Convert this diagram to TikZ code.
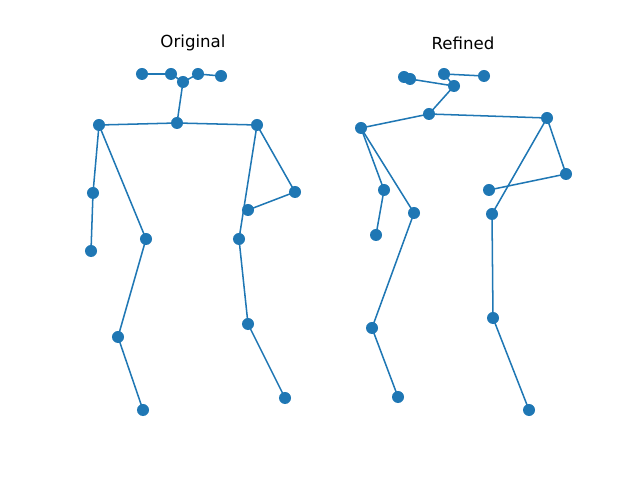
\documentclass[tikz,border=0pt]{standalone}
\usepackage{fontspec}
\setmainfont{DejaVu Sans}
\usetikzlibrary{backgrounds}
\definecolor{tabblue}{HTML}{1F77B4}
\tikzset{
  joint/.style={circle, fill=tabblue, inner sep=0pt, minimum size=0.12in},
  bone/.style={draw=tabblue, line width=1.1pt},
  ttl/.style={font=\fontsize{12pt}{14pt}\selectfont, inner sep=0pt}
}
\begin{document}
\begin{tikzpicture}[x=0.01in,y=-0.01in]
\useasboundingbox (0,0) rectangle (640,480);
\node[ttl] (t1) at (193,43) {Original};
\node[ttl] (t2) at (463,43) {Refined};
% Original
\node[joint] (oa) at (142,74) {};
\node[joint] (ob) at (171,74) {};
\node[joint] (oc) at (183,82) {};
\node[joint] (od) at (198,74) {};
\node[joint] (oe) at (221,76) {};
\node[joint] (on) at (177,123) {};
\node[joint] (ols) at (99,125) {};
\node[joint] (ors) at (257,125) {};
\node[joint] (ole) at (93,193) {};
\node[joint] (olw) at (91,251) {};
\node[joint] (olh) at (146,239) {};
\node[joint] (olk) at (118,337) {};
\node[joint] (ola) at (143,410) {};
\node[joint] (ore) at (295,192) {};
\node[joint] (orw) at (248,210) {};
\node[joint] (orh) at (239,239) {};
\node[joint] (ork) at (248,324) {};
\node[joint] (ora) at (285,398) {};
% Refined
\node[joint] (ra) at (404,77) {};
\node[joint] (rb) at (410,79) {};
\node[joint] (rc) at (454,86) {};
\node[joint] (rd) at (444,74) {};
\node[joint] (re) at (484,76) {};
\node[joint] (rn) at (429,114) {};
\node[joint] (rls) at (361,128) {};
\node[joint] (rrs) at (547,118) {};
\node[joint] (rle) at (384,190) {};
\node[joint] (rlw) at (376,235) {};
\node[joint] (rlh) at (414,213) {};
\node[joint] (rlk) at (372,328) {};
\node[joint] (rla) at (398,397) {};
\node[joint] (rre) at (566,174) {};
\node[joint] (rrw) at (489,190) {};
\node[joint] (rrh) at (492,214) {};
\node[joint] (rrk) at (493,318) {};
\node[joint] (rra) at (529,410) {};
\begin{scope}[on background layer]
\draw[bone] (oa.center) -- (ob.center) -- (oc.center) -- (od.center) -- (oe.center);
\draw[bone] (oc.center) -- (on.center);
\draw[bone] (ols.center) -- (on.center) -- (ors.center);
\draw[bone] (ols.center) -- (ole.center) -- (olw.center);
\draw[bone] (ols.center) -- (olh.center) -- (olk.center) -- (ola.center);
\draw[bone] (ors.center) -- (ore.center) -- (orw.center);
\draw[bone] (ors.center) -- (orh.center) -- (ork.center) -- (ora.center);
\draw[bone] (ra.center) -- (rb.center) -- (rc.center) -- (rd.center) -- (re.center);
\draw[bone] (rc.center) -- (rn.center);
\draw[bone] (rls.center) -- (rn.center) -- (rrs.center);
\draw[bone] (rls.center) -- (rle.center) -- (rlw.center);
\draw[bone] (rls.center) -- (rlh.center) -- (rlk.center) -- (rla.center);
\draw[bone] (rrs.center) -- (rre.center) -- (rrw.center);
\draw[bone] (rrs.center) -- (rrh.center) -- (rrk.center) -- (rra.center);
\end{scope}
\end{tikzpicture}
\end{document}
